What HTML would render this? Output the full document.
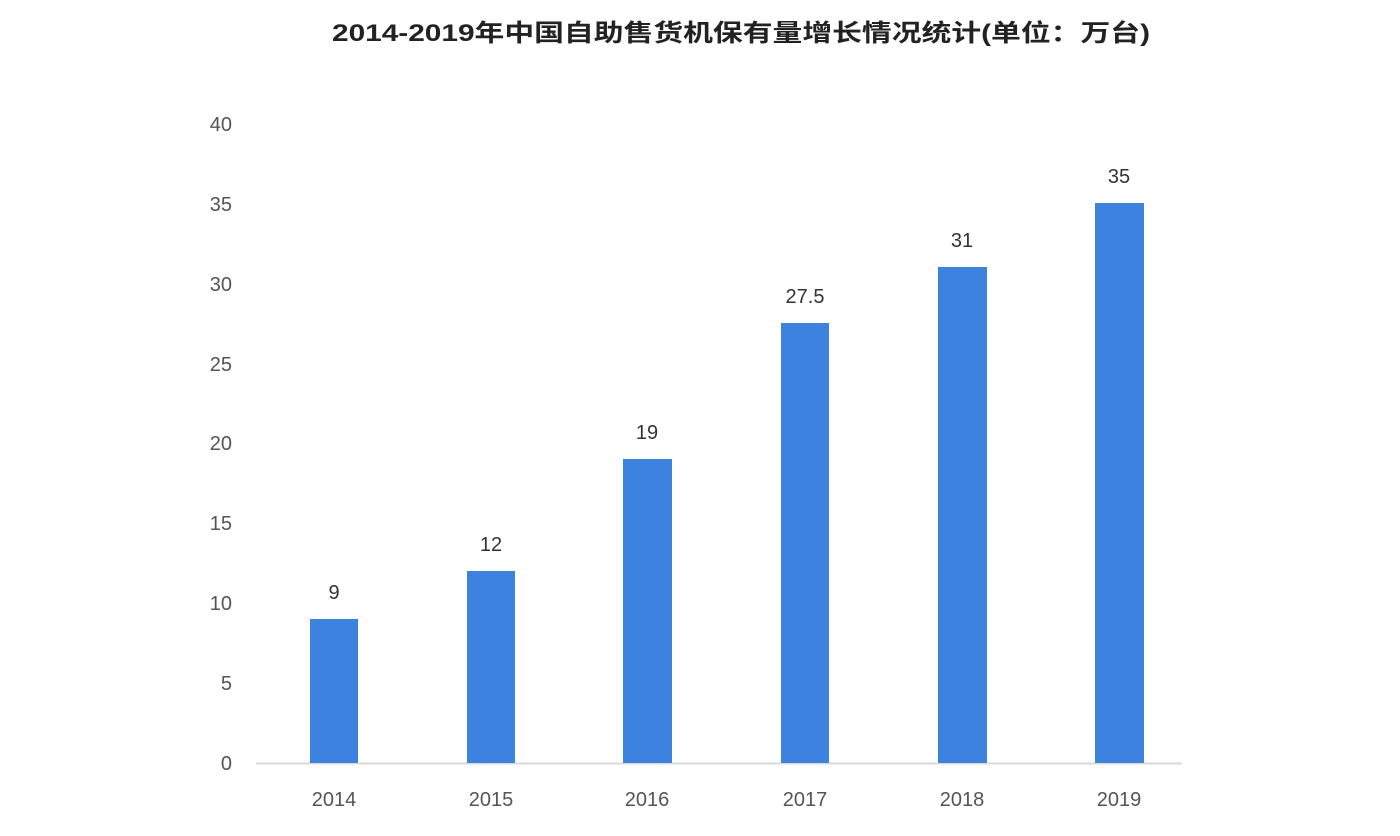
<!DOCTYPE html>
<html><head><meta charset="utf-8"><style>html,body{margin:0;padding:0;background:#fff;}svg{display:block}</style></head>
<body>
<svg width="1400" height="836" xmlns="http://www.w3.org/2000/svg" font-family="'Liberation Sans','Noto Sans CJK SC',sans-serif">
<rect width="1400" height="836" fill="#fff"/>
<text x="332" y="41" font-size="24" font-weight="bold" fill="#222" textLength="818" lengthAdjust="spacingAndGlyphs">2014-2019年中国自助售货机保有量增长情况统计(单位：万台)</text>
<g font-size="20" fill="#555" text-anchor="end">
<text x="232" y="131">40</text><text x="232" y="211">35</text><text x="232" y="291">30</text><text x="232" y="371">25</text><text x="232" y="450">20</text><text x="232" y="530">15</text><text x="232" y="610">10</text><text x="232" y="690">5</text><text x="232" y="770">0</text>
</g>
<line x1="256" y1="763.5" x2="1182" y2="763.5" stroke="#d9d9d9" stroke-width="2"/>
<g fill="#3d82de">
<rect x="310" y="619" width="48" height="144"/>
<rect x="467" y="571" width="48" height="192"/>
<rect x="623" y="459" width="49" height="304"/>
<rect x="781" y="323" width="48" height="440"/>
<rect x="938" y="267" width="49" height="496"/>
<rect x="1095" y="203" width="49" height="560"/>
</g>
<g font-size="20" fill="#333" text-anchor="middle">
<text x="334" y="599">9</text><text x="491" y="551">12</text><text x="647" y="439">19</text><text x="805" y="303">27.5</text><text x="962" y="247">31</text><text x="1119" y="183">35</text>
</g>
<g font-size="20" fill="#555" text-anchor="middle">
<text x="334" y="806">2014</text><text x="491" y="806">2015</text><text x="647" y="806">2016</text><text x="805" y="806">2017</text><text x="962" y="806">2018</text><text x="1119" y="806">2019</text>
</g>
</svg>
</body></html>
